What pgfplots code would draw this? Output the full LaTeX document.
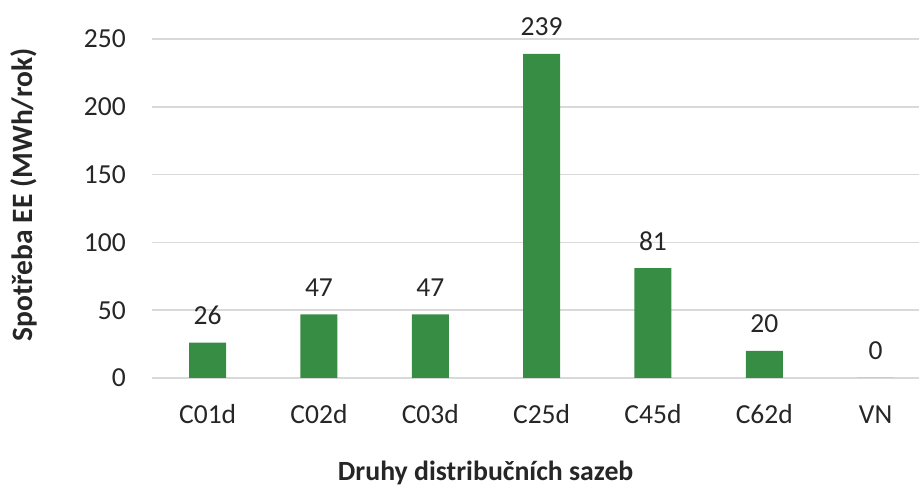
\documentclass[border=0pt]{standalone}
\usepackage{pgfplots}
\pgfplotsset{compat=1.18}
\usepackage{fontspec}
\setmainfont{Carlito}
\definecolor{barg}{RGB}{56,141,69}
\definecolor{gridg}{RGB}{217,217,217}
\begin{document}
\begin{tikzpicture}[x=1bp,y=1bp]
\useasboundingbox (0,0) rectangle (919,487);
\begin{axis}[
  at={(152bp,109bp)}, anchor=south west,
  scale only axis, width=767bp, height=339bp,
  xmin=-0.5, xmax=6.39, ymin=0, ymax=250,
  enlargelimits=false,
  ybar, bar width=37bp, bar shift=0pt,
  axis line style={draw=none},
  major tick length=0pt,
  ymajorgrids, grid style={gridg, line width=1.5bp},
  ytick={0,50,100,150,200,250},
  xtick={0,1,2,3,4,5,6},
  xticklabels={C01d,C02d,C03d,C25d,C45d,C62d,VN},
  /pgf/number format/assume math mode=true,
  tick label style={font=\fontsize{27.5bp}{32bp}\selectfont, text=black!85},
  yticklabel style={anchor=east, inner sep=0pt, xshift=-26bp},
  xticklabel style={anchor=base, inner sep=0pt, yshift=-46bp},
  nodes near coords,
  every node near coord/.append style={font=\fontsize{27.5bp}{32bp}\selectfont, text=black!85, anchor=base, inner sep=0pt, yshift=18bp},
  xlabel={Druhy distribučních sazeb},
  ylabel={Spotřeba EE (MWh/rok)},
  xlabel style={font=\fontsize{27.8bp}{32bp}\selectfont\bfseries, text=black!85, at={(axis description cs:0.435,-0.28)}, anchor=center, inner sep=0pt},
  ylabel style={font=\fontsize{29.5bp}{34bp}\selectfont\bfseries, text=black!85, at={(axis description cs:-0.167,0.541)}, anchor=center, inner sep=0pt, rotate=0},
]
\addplot[fill=barg, draw=none] coordinates {(0,26) (1,47) (2,47) (3,239) (4,81) (5,20) (6,0)};
\end{axis}
\end{tikzpicture}
\end{document}
